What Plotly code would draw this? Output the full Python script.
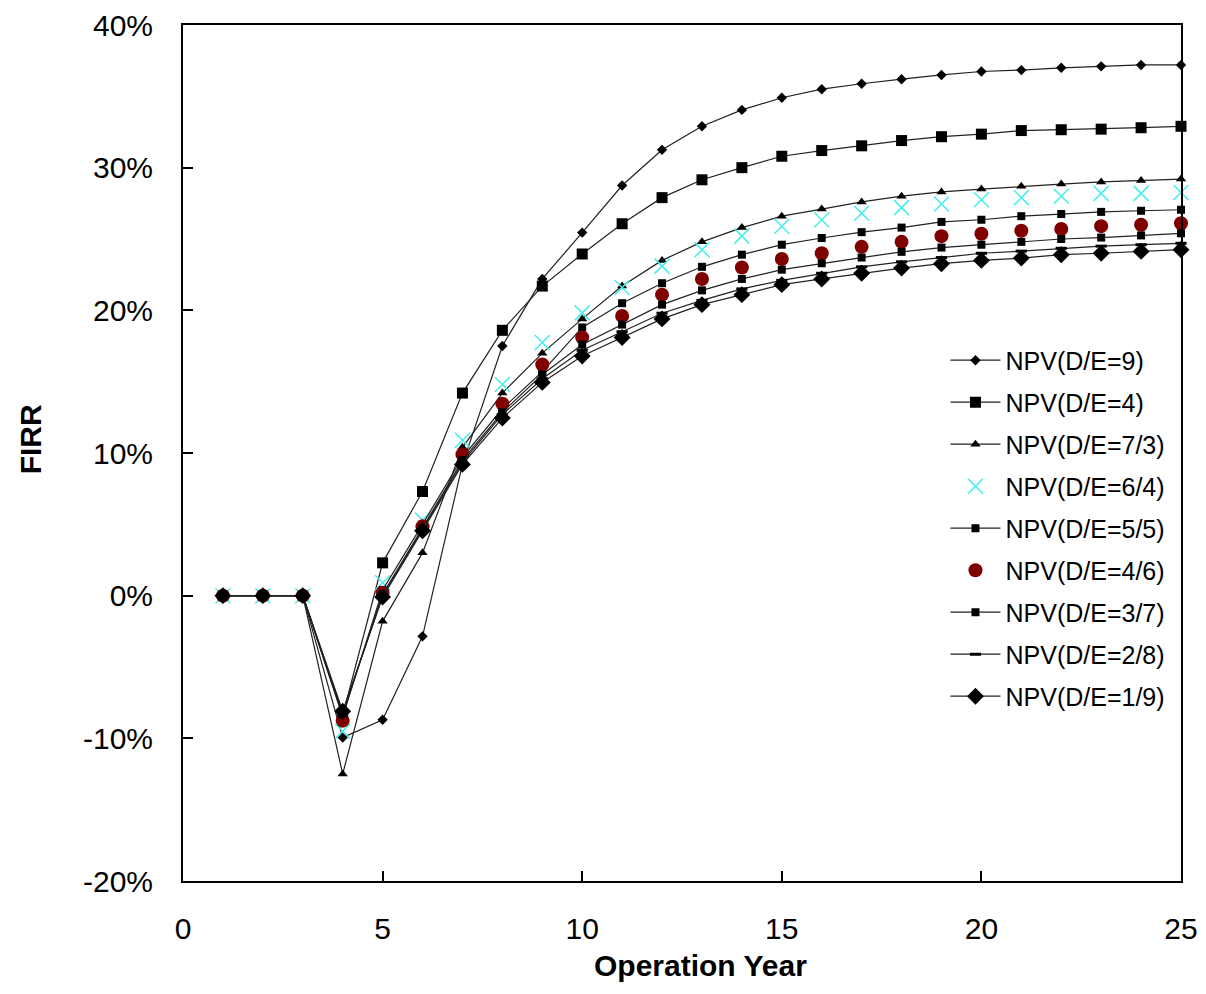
import plotly.graph_objects as go

years = list(range(1, 26))

# FIRR values (%)
firr_9 = [0, 0, 0, -9.95, -8.7, -2.85, 9.2, 17.5, 22.2, 25.45, 28.75, 31.25, 32.9, 34.05, 34.9, 35.5, 35.88, 36.2, 36.5, 36.74, 36.84, 37.0, 37.1, 37.2, 37.2]
firr_4 = [0, 0, 0, -8.4, 2.3, 7.3, 14.2, 18.6, 21.7, 23.95, 26.07, 27.9, 29.15, 30.0, 30.8, 31.2, 31.53, 31.9, 32.17, 32.35, 32.6, 32.66, 32.7, 32.8, 32.9]
firr_7_3 = [0, 0, 0, -12.5, -1.8, 3.0, 10.4, 14.2, 17.0, 19.4, 21.7, 23.5, 24.8, 25.8, 26.6, 27.1, 27.6, 28.0, 28.3, 28.5, 28.7, 28.85, 29.0, 29.1, 29.2]
firr_6_4 = [0, 0, 0, -9.5, 0.9, 5.3, 10.9, 14.8, 17.75, 19.82, 21.6, 23.1, 24.25, 25.2, 25.9, 26.35, 26.8, 27.2, 27.45, 27.75, 27.9, 28.0, 28.2, 28.2, 28.26]
firr_5_5 = [0, 0, 0, -8.5, 0.4, 5.0, 9.7, 13.1, 15.7, 18.8, 20.5, 21.9, 23.05, 23.9, 24.6, 25.07, 25.48, 25.8, 26.2, 26.35, 26.6, 26.75, 26.9, 26.98, 27.05]
firr_4_6 = [0, 0, 0, -8.76, 0.2, 4.86, 9.9, 13.45, 16.2, 18.1, 19.6, 21.1, 22.2, 23.0, 23.6, 24.0, 24.45, 24.8, 25.2, 25.37, 25.58, 25.7, 25.9, 26.0, 26.1]
firr_3_7 = [0, 0, 0, -8.3, 0.1, 4.75, 9.5, 12.85, 15.5, 17.6, 19.0, 20.4, 21.4, 22.2, 22.85, 23.3, 23.7, 24.1, 24.4, 24.6, 24.8, 25.0, 25.1, 25.25, 25.4]
firr_2_8 = [0, 0, 0, -8.2, 0.0, 4.65, 9.35, 12.7, 15.2, 17.2, 18.5, 19.8, 20.7, 21.5, 22.1, 22.6, 23.05, 23.4, 23.7, 24.0, 24.15, 24.35, 24.5, 24.6, 24.7]
firr_1_9 = [0, 0, 0, -8.1, -0.1, 4.55, 9.2, 12.45, 14.95, 16.8, 18.1, 19.4, 20.4, 21.1, 21.8, 22.2, 22.6, 22.96, 23.27, 23.5, 23.66, 23.9, 24.0, 24.13, 24.25]

series_names = ["NPV(D/E=9)", "NPV(D/E=4)", "NPV(D/E=7/3)", "NPV(D/E=6/4)", "NPV(D/E=5/5)",
                "NPV(D/E=4/6)", "NPV(D/E=3/7)", "NPV(D/E=2/8)", "NPV(D/E=1/9)"]
series_values = [firr_9, firr_4, firr_7_3, firr_6_4, firr_5_5, firr_4_6, firr_3_7, firr_2_8, firr_1_9]

y_ticks = [-20, -10, 0, 10, 20, 30, 40]
y_tick_text = ["-20%", "-10%", "0%", "10%", "20%", "30%", "40%"]
x_ticks = [0, 5, 10, 15, 20, 25]

styles = [
    dict(mode="lines+markers", marker=dict(symbol="diamond", size=8, color="black")),
    dict(mode="lines+markers", marker=dict(symbol="square", size=11, color="black")),
    dict(mode="lines+markers", marker=dict(symbol="triangle-up", size=9, color="black")),
    dict(mode="markers", marker=dict(symbol="x-thin", size=15, color="#44EEEE",
                                     line=dict(width=1.5, color="#44EEEE"))),
    dict(mode="lines+markers", marker=dict(symbol="square", size=8, color="black")),
    dict(mode="markers", marker=dict(symbol="circle", size=14, color="#800000")),
    dict(mode="lines+markers", marker=dict(symbol="square", size=8, color="black")),
    dict(mode="lines+markers", marker=dict(symbol="line-ew", size=8, color="black",
                                           line=dict(width=3, color="black"))),
    dict(mode="lines+markers", marker=dict(symbol="diamond", size=13, color="black")),
]

fig = go.Figure()
for i, (name, vals, st) in enumerate(zip(series_names, series_values, styles)):
    fig.add_trace(go.Scatter(
        x=years, y=vals, name=name, legendgroup=f"g{i}",
        line=dict(color="#222222", width=1.2),
        cliponaxis=False,
        **st,
    ))

fig.update_layout(
    width=1190, height=978,
    margin=dict(l=175, r=17, t=17, b=105, autoexpand=False),
    paper_bgcolor="white", plot_bgcolor="white",
    font=dict(family="Liberation Sans, Arial", color="black"),
    showlegend=True,
    legend=dict(x=0.764, y=0.635, xanchor="left", yanchor="top",
                font=dict(size=25), bgcolor="rgba(0,0,0,0)",
                traceorder="grouped", tracegroupgap=6.5, itemwidth=50),
    xaxis=dict(range=[0, 25], tickvals=x_ticks, ticks="inside", ticklen=10, tickwidth=2,
               tickcolor="black", showline=True, linecolor="black", linewidth=2, mirror=True,
               showgrid=False, zeroline=False, tickfont=dict(size=30), automargin=False,
               ticklabelstandoff=20),
    yaxis=dict(range=[-20, 40], tickvals=y_ticks, ticktext=y_tick_text, ticks="inside",
               ticklen=10, tickwidth=2, tickcolor="black", showline=True, linecolor="black",
               linewidth=2, mirror=True, showgrid=False, zeroline=False, automargin=False,
               tickfont=dict(size=30), ticklabelstandoff=22),
    annotations=[
        dict(text="<b>Operation Year</b>", xref="paper", yref="paper", x=0.519, y=-0.0985,
             xanchor="center", yanchor="middle", showarrow=False, font=dict(size=30)),
        dict(text="<b>FIRR</b>", xref="paper", yref="paper", x=-0.1533, y=0.516,
             xanchor="center", yanchor="middle", showarrow=False, textangle=-90,
             font=dict(size=30)),
    ],
)

fig.write_html("out.html")
